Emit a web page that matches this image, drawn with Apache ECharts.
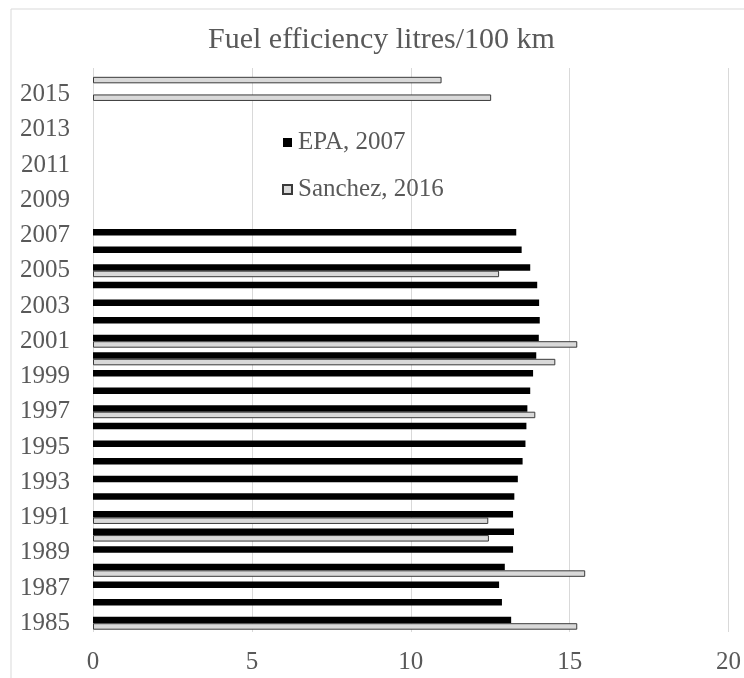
<!DOCTYPE html>
<html>
<head>
<meta charset="utf-8">
<script src="https://cdn.jsdelivr.net/npm/echarts@6/dist/echarts.min.js"></script>
<style>
  html, body { margin: 0; padding: 0; background: #fff; }
  #chart { width: 744px; height: 678px; }
</style>
</head>
<body>
<div id="chart"></div>
<script>
// years on the category axis, bottom to top
const years = ['1985','1986','1987','1988','1989','1990','1991','1992','1993','1994',
  '1995','1996','1997','1998','1999','2000','2001','2002','2003','2004','2005','2006',
  '2007','2008','2009','2010','2011','2012','2013','2014','2015','2016'];

// EPA, 2007 (litres/100 km), 1985..2007
const epa2007 = [13.16, 12.87, 12.78, 12.96, 13.22, 13.25, 13.22, 13.26, 13.37, 13.52,
  13.61, 13.64, 13.67, 13.76, 13.85, 13.95, 14.03, 14.06, 14.04, 13.98, 13.76, 13.49,
  13.32, null, null, null, null, null, null, null, null, null];

// Sanchez, 2016 - only some years
const sanchez2016 = [15.24, null, null, 15.49, null, 12.46, 12.44, null, null, null,
  null, null, 13.92, null, null, 14.55, 15.24, null, null, null, 12.78, null,
  null, null, null, null, null, null, null, null, 12.53, 10.97];

const xTicks = [0, 5, 10, 15, 20];

const font = "'Liberation Serif', 'Times New Roman', serif";
const textColor = '#595959';

const chart = echarts.init(document.getElementById('chart'));

const option = {
  backgroundColor: '#fff',
  animation: false,
  title: {
    text: 'Fuel efficiency litres/100 km',
    left: 208,
    top: 25,
    padding: 0,
    textStyle: { fontFamily: font, fontSize: 30, fontWeight: 'normal', color: textColor }
  },
  legend: {
    orient: 'vertical',
    left: 277,
    top: 125,
    itemWidth: 9,
    itemHeight: 9,
    itemGap: 22,
    icon: 'rect',
    data: ['EPA, 2007', 'Sanchez, 2016'],
    textStyle: { fontFamily: font, fontSize: 25, color: textColor, padding: [0, 0, 0, 1] }
  },
  grid: { left: 93, right: 14, top: 68, bottom: 46, containLabel: false },
  xAxis: {
    type: 'value',
    min: xTicks[0],
    max: xTicks[xTicks.length - 1],
    interval: 5,
    axisLine: { show: false },
    axisTick: { show: false },
    splitLine: { lineStyle: { color: '#d9d9d9', width: 1 } },
    axisLabel: { fontFamily: font, fontSize: 25, color: textColor, margin: 18 }
  },
  yAxis: {
    type: 'category',
    data: years,
    axisLine: { show: false },
    axisTick: { show: false },
    axisLabel: { interval: 1, fontFamily: font, fontSize: 25, color: textColor, margin: 23 }
  },
  series: [
    {
      name: 'EPA, 2007',
      type: 'bar',
      data: epa2007,
      barWidth: 6.5,
      barGap: '0%',
      itemStyle: { color: '#000000' }
    },
    {
      name: 'Sanchez, 2016',
      type: 'bar',
      data: sanchez2016,
      barWidth: 6.5,
      barGap: '0%',
      itemStyle: { color: '#d9d9d9', borderColor: '#3a3a3a', borderWidth: 1 }
    }
  ],
  graphic: [{
    type: 'rect',
    shape: { x: 11, y: 9, width: 800, height: 700 },
    style: { fill: 'none', stroke: '#d9d9d9', lineWidth: 1 },
    silent: true
  }]
};

chart.setOption(option);
</script>
</body>
</html>
